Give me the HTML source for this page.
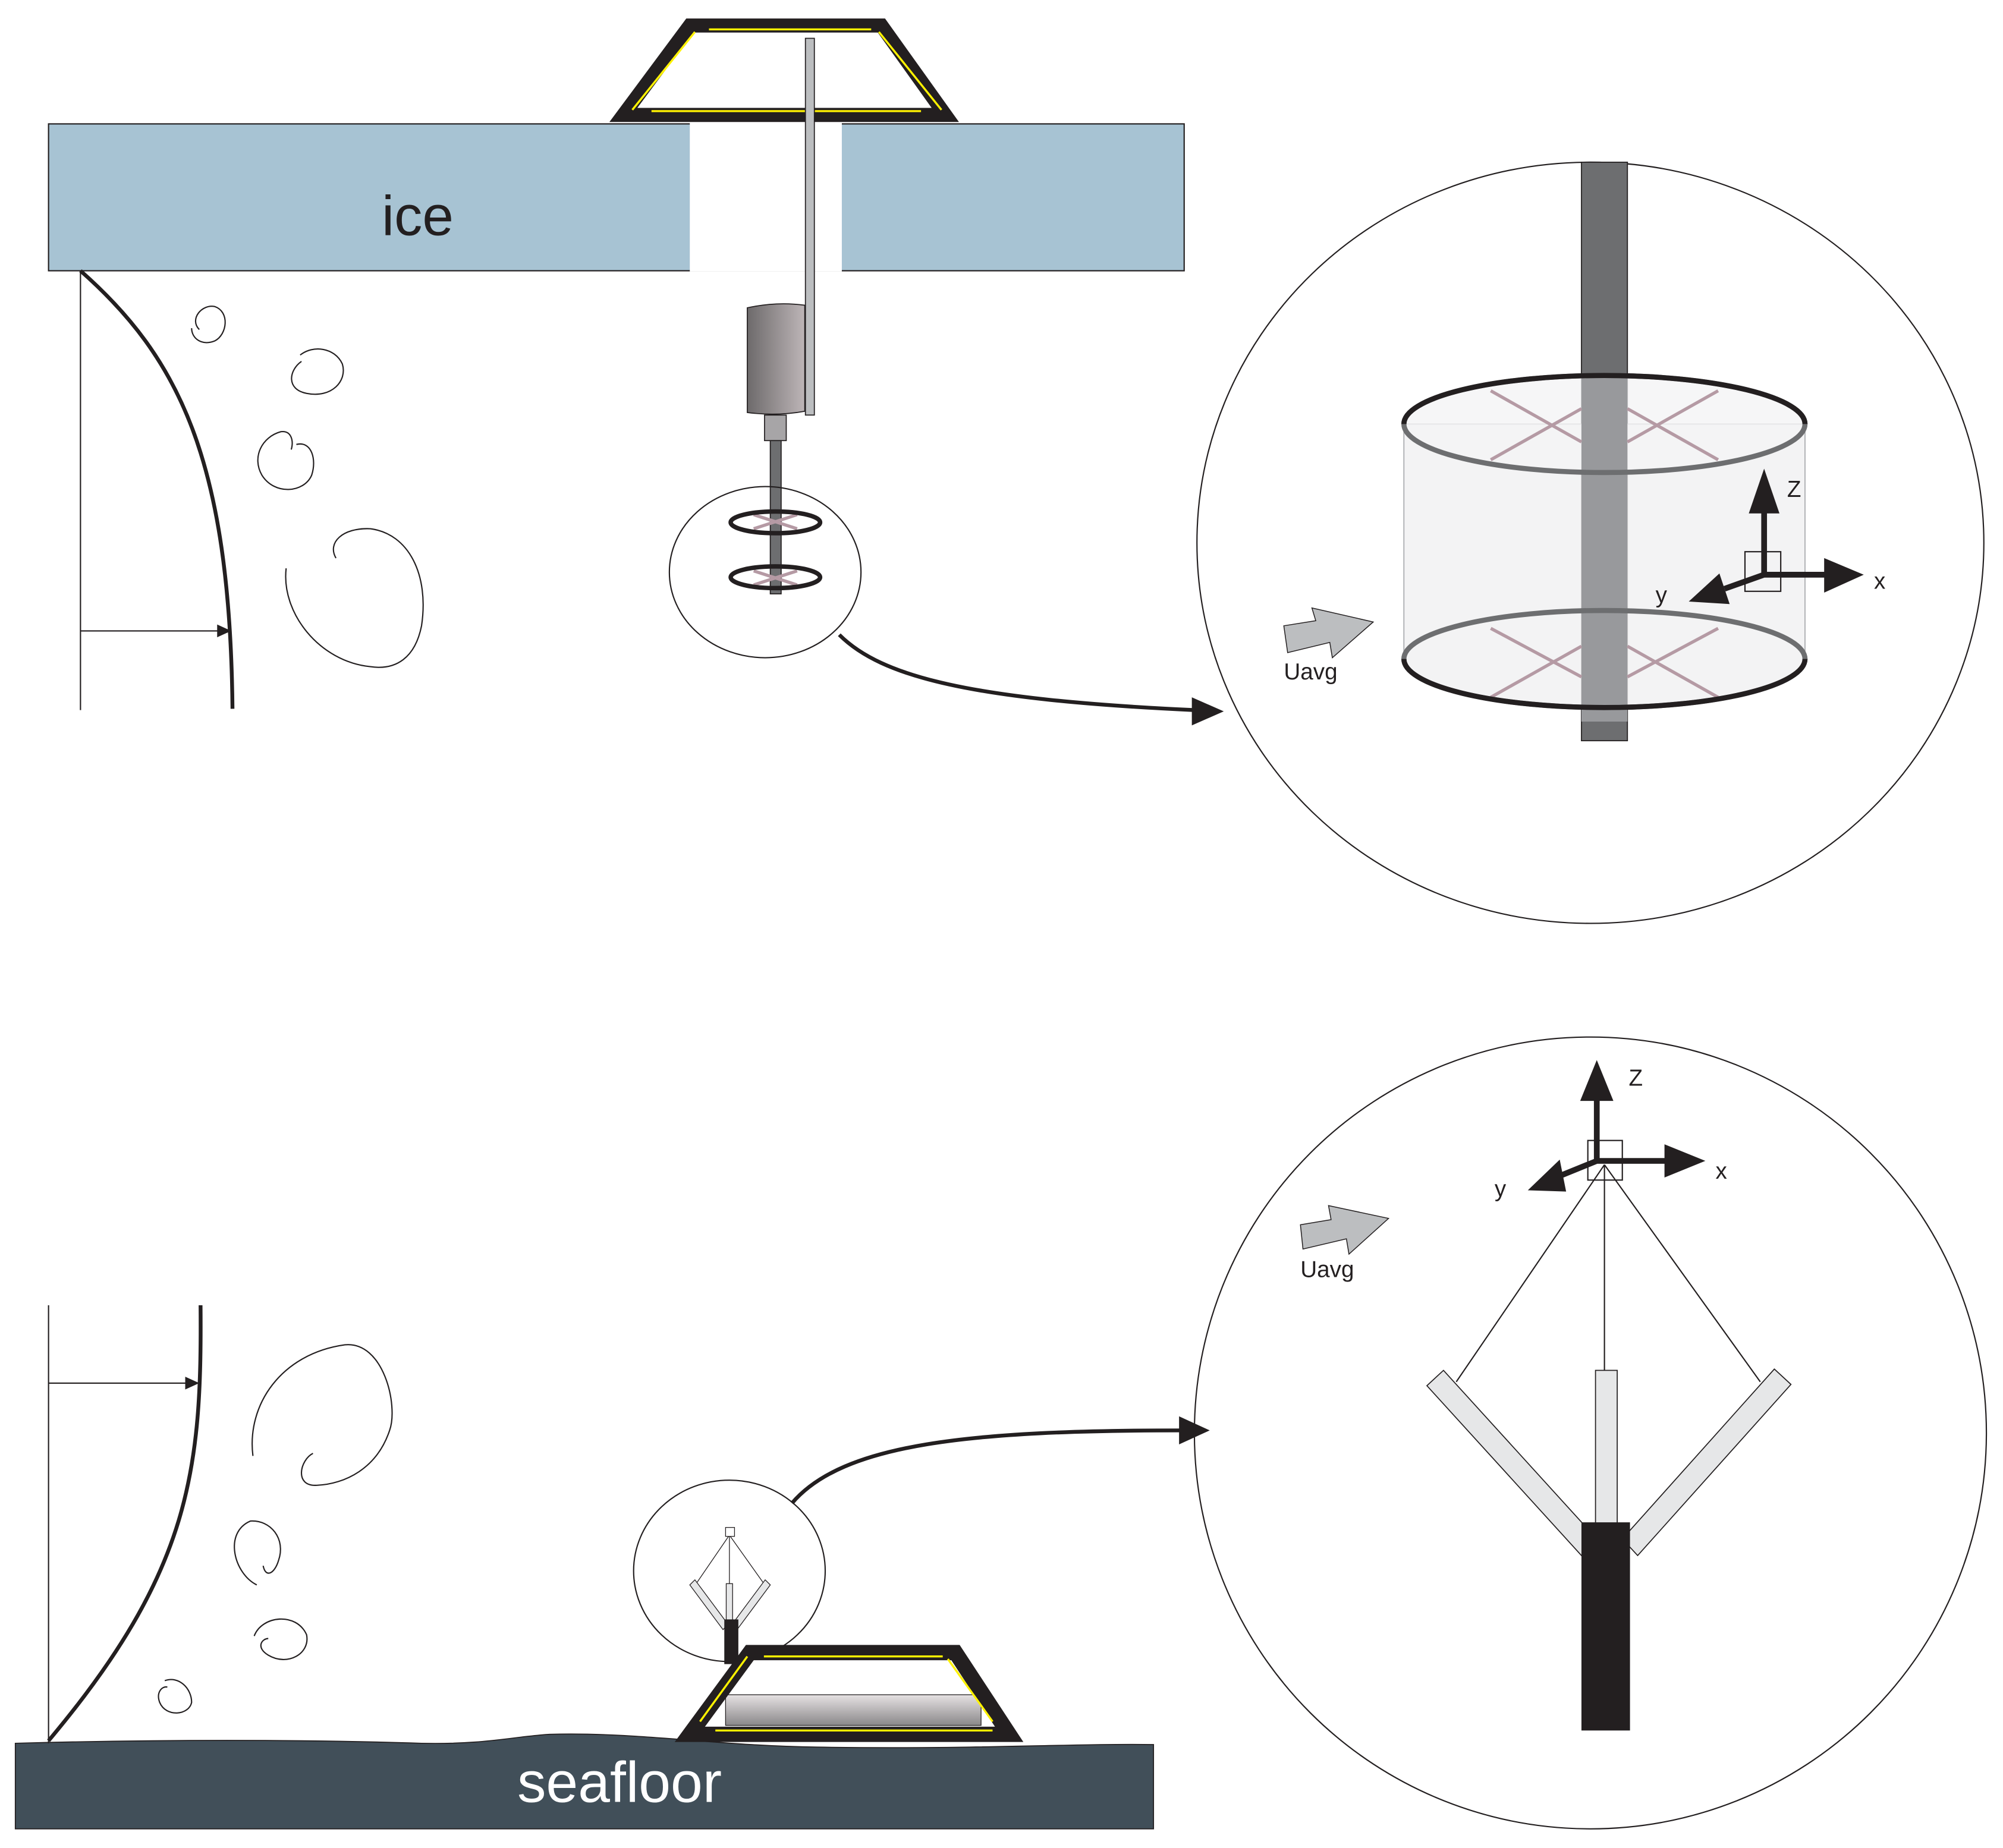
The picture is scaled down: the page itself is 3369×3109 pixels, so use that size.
<!DOCTYPE html>
<html><head><meta charset="utf-8"><style>html,body{margin:0;padding:0;background:#fff}svg{display:block}</style></head>
<body>
<svg width="3369" height="3109" viewBox="0 0 1568 1447" preserveAspectRatio="none" xmlns="http://www.w3.org/2000/svg" font-family="Liberation Sans, sans-serif">
<defs>
<linearGradient id="hous" x1="0" x2="1" y1="0" y2="0"><stop offset="0" stop-color="#6d6a6b"/><stop offset="1" stop-color="#bdb5b7"/></linearGradient>
<linearGradient id="box" x1="0" x2="0" y1="0" y2="1"><stop offset="0" stop-color="#e6e2e3"/><stop offset="1" stop-color="#8a888a"/></linearGradient>
</defs>
<!-- ICE -->
<rect x="38" y="97" width="889" height="115" fill="#a7c3d3" stroke="#231f20" stroke-width="1"/>
<rect x="540" y="96" width="119" height="116.5" fill="#fff"/>
<text x="327" y="184" font-size="44" text-anchor="middle" fill="#231f20">ice</text>
<!-- top frame -->
<g stroke-linejoin="miter">
<path d="M488,90 L540,20 L690,20 L740,90 Z" fill="none" stroke="#231f20" stroke-width="11"/>
<path d="M495,86 L544,25 M555,23 L682,23 M688,25 L737,86 M510,87 L721,87" stroke="#fff200" stroke-width="1.6" fill="none"/>
</g>
<!-- pole & housing -->
<rect x="630.5" y="30" width="7" height="295" fill="#bcbec0" stroke="#231f20" stroke-width="0.8"/>
<path d="M585,241 Q608,236 630,239 L630,322 Q608,326 585,323 Z" fill="url(#hous)" stroke="#231f20" stroke-width="0.8"/>
<rect x="598.5" y="325" width="17" height="20" fill="#a7a5a7" stroke="#231f20" stroke-width="0.8"/>
<rect x="603" y="345" width="8.5" height="120" fill="#6d6e70" stroke="#231f20" stroke-width="0.8"/>
<ellipse cx="599" cy="448" rx="75" ry="67" fill="none" stroke="#231f20" stroke-width="1"/>
<g stroke="#b59aa4" stroke-width="2.5"><path d="M590,403 L624,414 M590,414 L624,403 M590,447 L624,458 M590,458 L624,447"/></g>
<ellipse cx="607" cy="409" rx="35" ry="8.5" fill="none" stroke="#231f20" stroke-width="3.5"/>
<ellipse cx="607" cy="452" rx="35" ry="8.5" fill="none" stroke="#231f20" stroke-width="3.5"/>
<!-- connector top -->
<path d="M657,497 C690,530 760,548 935,556" fill="none" stroke="#231f20" stroke-width="3"/>
<polygon points="958,557 933,546 933,568" fill="#231f20"/>
<!-- left profile top -->
<line x1="63" y1="212" x2="63" y2="556" stroke="#231f20" stroke-width="1"/>
<path d="M63,212 C140,280 180,360 182,555" fill="none" stroke="#231f20" stroke-width="3"/>
<line x1="63" y1="494" x2="172" y2="494" stroke="#231f20" stroke-width="1"/>
<polygon points="181,494 170,489 170,499" fill="#231f20"/>
<!-- top eddies -->
<g fill="none" stroke="#231f20" stroke-width="1">
<path d="M156,258 C148,250 158,238 168,240 C180,244 178,262 168,267 C158,271 150,265 150,257"/>
<path d="M236,283 C226,290 224,305 240,308 C260,312 272,298 268,285 C262,272 245,270 235,278"/>
<path d="M232,348 C244,345 248,360 244,372 C238,386 215,388 205,372 C197,358 205,342 220,338 C228,337 230,345 228,352"/>
<path d="M263,437 C256,425 268,413 290,414 C320,418 336,450 330,490 C325,515 310,525 290,522 C250,518 220,480 224,445"/>
</g>
<!-- big circle top -->
<ellipse cx="1245" cy="425" rx="308" ry="298" fill="none" stroke="#231f20" stroke-width="1"/>
<rect x="1238" y="127" width="36" height="453" fill="#6d6e70" stroke="#231f20" stroke-width="0.8"/>
<path d="M1099,332 L1099,516 A157,38 0 0 0 1413,516 L1413,332 Z" fill="#f1f1f2" fill-opacity="0.85" stroke="#a7a9ac" stroke-width="0.8"/>
<ellipse cx="1256" cy="332" rx="157" ry="38" fill="#f4f4f5" fill-opacity="0.8"/>
<rect x="1238" y="295" width="36" height="270" fill="#98999c"/>
<g stroke="#b59aa4" stroke-width="2.5"><path d="M1167,306 L1238,346 M1167,360 L1238,320 M1274,346 L1345,306 M1274,320 L1345,360 M1167,492 L1238,530 M1167,546 L1238,506 M1274,530 L1345,492 M1274,506 L1345,546"/></g>
<ellipse cx="1256" cy="332" rx="157" ry="38" fill="none" stroke="#6d6e70" stroke-width="4"/>
<path d="M1099,332 A157,38 0 0 1 1413,332" fill="none" stroke="#231f20" stroke-width="4"/>
<ellipse cx="1256" cy="516" rx="157" ry="38" fill="none" stroke="#6d6e70" stroke-width="4"/>
<path d="M1099,516 A157,38 0 0 0 1413,516" fill="none" stroke="#231f20" stroke-width="4"/>
<!-- axes top -->
<rect x="1366" y="432" width="28" height="31" fill="none" stroke="#231f20" stroke-width="1"/>
<g stroke="#231f20" stroke-width="4.5" fill="none"><path d="M1381,450 L1381,395 M1381,450 L1432,450 M1381,450 L1350,461"/></g>
<polygon points="1381,367 1369,402 1393,402" fill="#231f20"/>
<polygon points="1459,450 1428,437 1428,464" fill="#231f20"/>
<polygon points="1322,471 1354,473 1346,449" fill="#231f20"/>
<text x="1399" y="389" font-size="18" fill="#231f20">Z</text>
<text x="1467" y="461" font-size="18" fill="#231f20">x</text>
<text x="1296" y="472" font-size="18" fill="#231f20">y</text>
<polygon points="1005,490 1030,486 1027,476 1075,487 1043,515 1041,503 1008,511" fill="#bcbec0" stroke="#231f20" stroke-width="0.7"/>
<text x="1005" y="532" font-size="18" fill="#231f20">Uavg</text>

<!-- SEAFLOOR -->
<path d="M12,1365 C120,1362 240,1362 330,1365 C380,1366 400,1360 430,1358 C500,1356 560,1367 640,1368 C760,1370 840,1365 903,1366 L903,1432 L12,1432 Z" fill="#414f59" stroke="#231f20" stroke-width="0.8"/>
<text x="485" y="1411" font-size="45" text-anchor="middle" fill="#fff">seafloor</text>
<!-- left profile bottom -->
<line x1="38" y1="1022" x2="38" y2="1365" stroke="#231f20" stroke-width="1"/>
<path d="M157,1022 C158,1150 150,1230 38,1363" fill="none" stroke="#231f20" stroke-width="3"/>
<line x1="38" y1="1083" x2="147" y2="1083" stroke="#231f20" stroke-width="1"/>
<polygon points="156,1083 145,1078 145,1088" fill="#231f20"/>
<g fill="none" stroke="#231f20" stroke-width="1">
<path d="M198,1140 C193,1100 220,1060 270,1053 C300,1050 312,1100 305,1120 C295,1150 270,1162 248,1163 C230,1164 235,1143 245,1138"/>
<path d="M201,1241 C183,1232 175,1200 196,1191 C212,1190 224,1205 218,1222 C215,1232 208,1236 206,1226"/>
<path d="M199,1281 C205,1265 232,1262 240,1280 C243,1295 225,1305 210,1296 C200,1290 205,1283 210,1283"/>
<path d="M129,1316 C140,1312 150,1322 150,1333 C148,1343 130,1345 125,1333 C122,1325 127,1320 131,1321"/>
</g>
<!-- small circle bottom -->
<ellipse cx="571" cy="1230" rx="75" ry="71" fill="none" stroke="#231f20" stroke-width="1"/>
<g stroke="#231f20" stroke-width="0.6" fill="none"><path d="M571,1202 L545,1240 M571,1202 L598,1240 M571,1202 L571,1240"/></g>
<rect x="568" y="1196" width="7" height="7" fill="#fff" stroke="#231f20" stroke-width="0.6"/>
<rect x="568.5" y="1240" width="5" height="30" fill="#e6e7e8" stroke="#231f20" stroke-width="0.6"/>
<path d="M540,1241 L544,1237 L570,1272 L566,1276 Z M603,1241 L599,1237 L573,1272 L577,1276 Z" fill="#e6e7e8" stroke="#231f20" stroke-width="0.6"/>
<rect x="567" y="1268" width="11" height="35" fill="#231f20"/>
<!-- bottom frame -->
<rect x="568" y="1327" width="200" height="24" fill="url(#box)" stroke="#231f20" stroke-width="0.6"/>
<path d="M540,1358 L587,1294 L748,1294 L790,1358 Z" fill="none" stroke="#231f20" stroke-width="12"/>
<path d="M548,1348 L585,1297 M598,1297 L738,1297 M742,1299 L777,1348 M560,1355 L777,1355" stroke="#fff200" stroke-width="1.6" fill="none"/>
<!-- connector bottom -->
<path d="M620,1177 C660,1130 760,1120 925,1120" fill="none" stroke="#231f20" stroke-width="3"/>
<polygon points="947,1120 923,1109 923,1131" fill="#231f20"/>
<!-- big circle bottom -->
<circle cx="1245" cy="1122" r="310" fill="none" stroke="#231f20" stroke-width="1"/>
<g stroke="#231f20" stroke-width="1" fill="none"><path d="M1256,912 L1140,1082 M1256,912 L1378,1082 M1256,912 L1256,1073"/></g>
<rect x="1249" y="1073" width="17" height="120" fill="#e6e7e8" stroke="#231f20" stroke-width="0.8"/>
<path d="M1117,1085 L1130,1073 L1250,1205 L1238,1218 Z" fill="#e6e7e8" stroke="#231f20" stroke-width="0.8"/>
<path d="M1402,1084 L1389,1072 L1270,1205 L1282,1218 Z" fill="#e6e7e8" stroke="#231f20" stroke-width="0.8"/>
<rect x="1238" y="1192" width="38" height="163" fill="#231f20"/>
<rect x="1243" y="893" width="27" height="31" fill="none" stroke="#231f20" stroke-width="1"/>
<g stroke="#231f20" stroke-width="4.5" fill="none"><path d="M1250,909 L1250,858 M1250,909 L1305,909 M1250,909 L1218,922"/></g>
<polygon points="1250,830 1237,862 1263,862" fill="#231f20"/>
<polygon points="1335,909 1303,896 1303,922" fill="#231f20"/>
<polygon points="1196,932 1226,933 1221,908" fill="#231f20"/>
<text x="1275" y="850" font-size="18" fill="#231f20">Z</text>
<text x="1343" y="923" font-size="18" fill="#231f20">x</text>
<text x="1170" y="937" font-size="18" fill="#231f20">y</text>
<polygon points="1018,959 1042,955 1040,944 1087,954 1056,982 1054,970 1020,978" fill="#bcbec0" stroke="#231f20" stroke-width="0.7"/>
<text x="1018" y="1000" font-size="18" fill="#231f20">Uavg</text>
</svg>
</body></html>
